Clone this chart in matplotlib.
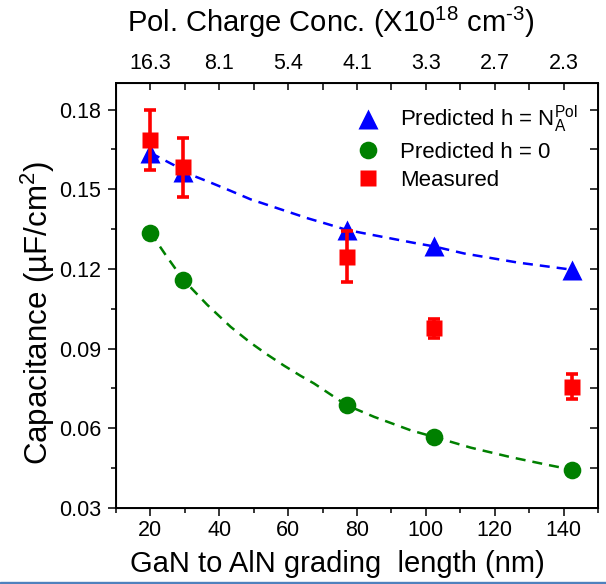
import numpy as np
import matplotlib
matplotlib.use('Agg')
from matplotlib import pyplot as plt
from matplotlib.ticker import MultipleLocator, FixedLocator
from matplotlib.patches import Rectangle

plt.rcParams['font.family'] = ['Liberation Sans', 'DejaVu Sans']
plt.rcParams['mathtext.fontset'] = 'custom'
plt.rcParams['mathtext.rm'] = 'Liberation Sans'
plt.rcParams['mathtext.it'] = 'Liberation Sans:italic'
plt.rcParams['mathtext.bf'] = 'Liberation Sans:bold'

# grading length (nm) of each sample
length = [20, 29.5, 77, 102.3, 142.5]
pred_hpol = [0.1637, 0.1566, 0.1347, 0.1285, 0.1197]
pred_h0 = [0.1337, 0.1160, 0.0687, 0.0568, 0.0444]
measured = [0.1685, 0.1582, 0.1245, 0.0976, 0.0757]
measured_err = [0.0113, 0.0110, 0.0096, 0.0037, 0.0048]

# dashed guide curves
fit_hpol_x = [20, 26.8, 29.5, 37.5, 43.3, 49.1, 54.0, 59.8, 65.6, 71.4, 77, 84.1, 96.6, 102.3, 111.2, 126.7, 138.4, 142.5]
fit_hpol_y = [0.1637, 0.1591, 0.1566, 0.1525, 0.1494, 0.1462, 0.1441, 0.1416, 0.1391, 0.1369, 0.1347, 0.1329, 0.1298, 0.1285, 0.1258, 0.1224, 0.1204, 0.1197]
fit_h0_x = [20, 24.35, 29.5, 36.5, 43.3, 49.1, 54.0, 58.8, 63.7, 67.5, 77, 85, 95.7, 102.3, 113.1, 124.8, 135.5, 142.5]
fit_h0_y = [0.1337, 0.1254, 0.1160, 0.1065, 0.0982, 0.0922, 0.0877, 0.0836, 0.0797, 0.0769, 0.0687, 0.0643, 0.0592, 0.0568, 0.0527, 0.0491, 0.0462, 0.0444]

# top axis: polarization charge conc. at the bottom tick positions
top_ticks = [20, 40, 60, 80, 100, 120, 140]
top_labels = ['16.3', '8.1', '5.4', '4.1', '3.3', '2.7', '2.3']

fig = plt.figure(figsize=(6.06, 5.84), dpi=100)
ax = fig.add_axes([116/606, 76/584, 482/606, 425/584])

ax.plot(fit_hpol_x, fit_hpol_y, color='#0000ff', lw=1.8, dashes=(4, 2.8), zorder=2)
ax.plot(fit_h0_x, fit_h0_y, color='#008000', lw=1.8, dashes=(4, 2.8), zorder=2)
tri, = ax.plot(length, pred_hpol, ls='none', marker='^', ms=15, color='#0000ff', mec='none', zorder=3)
circ, = ax.plot(length, pred_h0, ls='none', marker='o', ms=12.7, color='#008000', mec='none', zorder=3)
ax.errorbar(length, measured, yerr=measured_err, ls='none', color='#ff0000',
            elinewidth=2.6, capsize=4.2, capthick=2.6, zorder=4)
sq, = ax.plot(length, measured, ls='none', marker='s', ms=11.3, color='#ff0000', mec='none', zorder=5)

ax.set_xlim(10, 150)
ax.set_ylim(0.03, 0.19)
ax.xaxis.set_major_locator(FixedLocator([20, 40, 60, 80, 100, 120, 140]))
ax.xaxis.set_minor_locator(MultipleLocator(10))
ax.yaxis.set_major_locator(FixedLocator([0.03, 0.06, 0.09, 0.12, 0.15, 0.18]))
ax.yaxis.set_minor_locator(MultipleLocator(0.015))
ax.set_yticklabels(['0.03', '0.06', '0.09', '0.12', '0.15', '0.18'])
ax.tick_params(which='both', direction='out', width=1.1, labelsize=15.5, top=False, right=False)
ax.tick_params(which='major', length=6)
ax.tick_params(which='minor', length=3.5)
ax.tick_params(axis='x', pad=2.5)
ax.tick_params(axis='y', pad=4.5)
for s in ax.spines.values():
    s.set_linewidth(1.2)

ax.set_xlabel('GaN to AlN grading  length (nm)', fontsize=21)
ax.xaxis.set_label_coords(0.46, -0.100)
ax.set_ylabel('Capacitance (µF/cm$^2$)', fontsize=22.5)
ax.yaxis.set_label_coords(-0.122, 0.46)

# right side ticks pointing inward
axr = ax.twinx()
axr.set_ylim(0.03, 0.19)
axr.yaxis.set_major_locator(MultipleLocator(0.015))
axr.tick_params(direction='in', length=6, width=1.1, labelright=False)
for s in axr.spines.values():
    s.set_linewidth(1.2)

# top axis
ax2 = ax.twiny()
ax2.set_xlim(10, 150)
ax2.xaxis.set_major_locator(FixedLocator(top_ticks))
ax2.xaxis.set_minor_locator(MultipleLocator(10))
ax2.set_xticklabels(top_labels)
ax2.tick_params(which='both', direction='in', length=5, width=1.1, labelsize=15.5, pad=6.2)
ax2.set_xlabel('Pol. Charge Conc. (X10$^{18}$ cm$^{\\text{-3}}$)', fontsize=21)
ax2.xaxis.set_label_coords(0.445, 1.12)

leg = ax.legend([tri, circ, sq],
                ['Predicted h = N$_\\mathrm{A}^\\mathrm{Pol}$', 'Predicted h = 0', 'Measured'],
                loc='upper left', bbox_to_anchor=((357-116)/482, (508-104)/425),
                frameon=False, fontsize=16, borderpad=0, borderaxespad=0,
                handlelength=1.0, handletextpad=0.95, labelspacing=0.3, numpoints=1)
leg.set_zorder(10)

# thin blue strip at the bottom edge of the screenshot
fig.patches.append(Rectangle((0, 0), 1, 2/584, transform=fig.transFigure,
                             color='#4f81bd', zorder=0))

fig.savefig('out.png', dpi=100)
